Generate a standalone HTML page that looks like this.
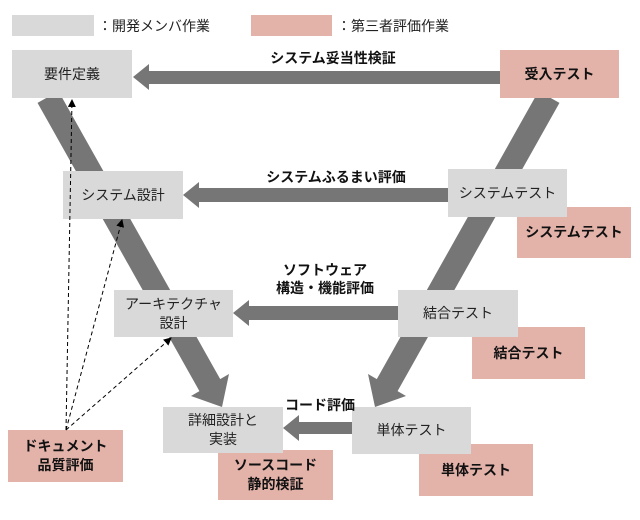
<!DOCTYPE html>
<html><head><meta charset="utf-8"><style>
html,body{margin:0;padding:0;background:#fff;}
body{width:640px;height:520px;position:relative;overflow:hidden;font-family:"Liberation Sans","Noto Sans CJK JP",sans-serif;}
.b{position:absolute;display:flex;align-items:center;justify-content:center;text-align:center;font-size:14px;line-height:19px;color:#222;}
.g{background:#d9d9d9;}
.p{background:#e3b3aa;font-weight:bold;color:#111;}
.l{position:absolute;font-weight:bold;font-size:14px;line-height:18px;text-align:center;color:#111;}
.t{position:absolute;font-size:14px;color:#222;}
svg{position:absolute;left:0;top:0;}
</style></head><body>
<svg width="640" height="520">
<g fill="#767676" stroke="none">
<line x1="48" y1="97" x2="212" y2="389" stroke="#767676" stroke-width="24"/>
<polygon points="229,374 191,396 222,407"/>
<line x1="549" y1="97" x2="385" y2="389" stroke="#767676" stroke-width="24"/>
<polygon points="406,396 368,374 375,407"/>
<rect x="146" y="71" width="356" height="13"/><polygon points="133,77 149,64 149,90"/>
<rect x="196" y="188" width="254" height="14"/><polygon points="183,195 199,182 199,208"/>
<rect x="247" y="306" width="153" height="14"/><polygon points="233,313 249,300 249,326"/>
<rect x="297" y="422" width="57" height="12"/><polygon points="283,428 299,415 299,441"/>
</g>
</svg>
<div class="b g" style="left:12px;top:15px;width:82px;height:21px"></div>
<div class="t" style="left:98px;top:16px">：開発メンバ作業</div>
<div class="b p" style="left:251px;top:15px;width:81px;height:21px"></div>
<div class="t" style="left:337px;top:16px">：第三者評価作業</div>

<div class="b g" style="left:12px;top:50px;width:120px;height:48px">要件定義</div>
<div class="b p" style="left:500px;top:50px;width:119px;height:48px">受入テスト</div>
<div class="l" style="left:233px;top:49px;width:200px">システム妥当性検証</div>

<div class="b p" style="left:517px;top:207px;width:114px;height:51px">システムテスト</div>
<div class="b g" style="left:63px;top:171px;width:120px;height:48px">システム設計</div>
<div class="b g" style="left:448px;top:169px;width:119px;height:48px">システムテスト</div>
<div class="l" style="left:236px;top:168px;width:200px">システムふるまい評価</div>

<div class="b p" style="left:472px;top:327px;width:113px;height:52px">結合テスト</div>
<div class="b g" style="left:114px;top:290px;width:119px;height:47px">アーキテクチャ<br>設計</div>
<div class="b g" style="left:398px;top:290px;width:120px;height:47px">結合テスト</div>
<div class="l" style="left:225px;top:261px;width:200px">ソフトウェア<br>構造・機能評価</div>

<div class="b p" style="left:218px;top:450px;width:115px;height:50px">ソースコード<br>静的検証</div>
<div class="b p" style="left:419px;top:444px;width:114px;height:52px">単体テスト</div>
<div class="b g" style="left:163px;top:407px;width:120px;height:46px">詳細設計と<br>実装</div>
<div class="b g" style="left:352px;top:407px;width:119px;height:47px">単体テスト</div>
<div class="l" style="left:260px;top:396px;width:120px">コード評価</div>

<div class="b p" style="left:8px;top:430px;width:115px;height:52px">ドキュメント<br>品質評価</div>

<svg width="640" height="520">
<defs><marker id="a" markerWidth="8" markerHeight="8" refX="7" refY="4" orient="auto" markerUnits="userSpaceOnUse"><path d="M0,0 L8,4 L0,8 z" fill="#000"/></marker></defs>
<g stroke="#000" stroke-width="1" stroke-dasharray="4,3" fill="none">
<line x1="66" y1="430" x2="72" y2="100" marker-end="url(#a)"/>
<line x1="66" y1="430" x2="122" y2="220" marker-end="url(#a)"/>
<line x1="66" y1="430" x2="171" y2="338" marker-end="url(#a)"/>
</g>
</svg>
</body></html>
